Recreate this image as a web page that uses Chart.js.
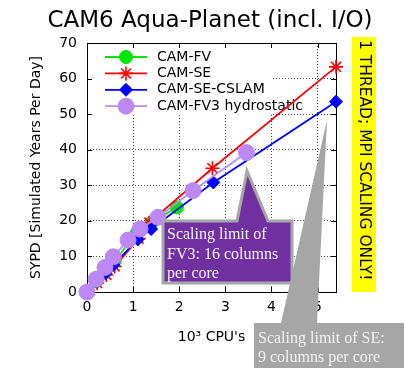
<!DOCTYPE html>
<html>
<head>
<meta charset="utf-8">
<script src="https://cdn.jsdelivr.net/npm/chart.js@4.4.0/dist/chart.umd.min.js"></script>
<style>
  html, body { margin: 0; padding: 0; background: #fff; }
  canvas { display: block; }
</style>
</head>
<body>
<canvas id="canvas" width="404" height="370"></canvas>
<script>
/* values: x = 10^3 CPU's, y = SYPD */
const fvX    = [0, 0.2, 0.4, 0.6, 1.08, 1.4, 1.95];
const fvY    = [0, 3.0, 6.0, 8.8, 16.6, 19.5, 23.8];
const seX    = [0, 0.22, 0.42, 0.6, 1.12, 1.35, 2.72, 5.4];
const seY    = [0, 2.5, 4.8, 7.2, 15.0, 19.5, 34.8, 63.3];
const cslamX = [0, 0.21, 0.4, 0.57, 1.1, 1.39, 2.74, 5.4];
const cslamY = [0, 2.9, 5.2, 7.6, 14.8, 17.7, 30.8, 53.5];
const fv3X   = [0, 0.2, 0.39, 0.57, 0.89, 1.15, 1.54, 2.3, 3.46];
const fv3Y   = [0, 3.6, 6.9, 9.9, 14.6, 17.7, 21.0, 28.5, 39.2];

const seriesNames = ['CAM-FV', 'CAM-SE', 'CAM-SE-CSLAM', 'CAM-FV3 hydrostatic'];
const xTicks = [0, 1, 2, 3, 4, 5];
const yTicks = [0, 10, 20, 30, 40, 50, 60, 70];

const titleText = 'CAM6 Aqua-Planet (incl. I/O)';
const noteText = '1 THREAD; MPI SCALING ONLY!';
const fv3Note = ['Scaling limit of', 'FV3: 16 columns', 'per core'];
const seNote = ['Scaling limit of SE:', '9 columns per core'];

function pts(xs, ys) {
    return xs.map(function (x, i) { return { x: x, y: ys[i] }; });
}

const sans = 'DejaVu Sans';

function series(label, data, color, style, radius, order) {
    return {
        label: label,
        data: data,
        showLine: true,
        borderColor: color,
        backgroundColor: color,
        borderWidth: 1.8,
        pointStyle: style,
        pointRadius: radius,
        pointHoverRadius: radius,
        pointBorderWidth: style === 'star' ? 1.6 : 1,
        order: order,
        clip: false
    };
}

/* gnuplot look: key box, frame, inward tics, notes */
const extras = {
    id: 'extras',
    beforeDatasetsDraw(chart) {
        const ctx = chart.ctx;
        const a = chart.chartArea;
        const xs = chart.scales.x, ys = chart.scales.y;
        ctx.save();
        // key
        ctx.fillStyle = '#fff';
        ctx.fillRect(a.left + 1, a.top + 1, 184, 71);
        chart.data.datasets.forEach(function (ds, i) {
            const cy = a.top + 14 + i * 16.4;
            ctx.strokeStyle = ds.borderColor;
            ctx.lineWidth = ds.borderWidth;
            ctx.beginPath();
            ctx.moveTo(a.left + 18, cy);
            ctx.lineTo(a.left + 60, cy);
            ctx.stroke();
            ctx.fillStyle = ds.backgroundColor;
            ctx.lineWidth = ds.pointBorderWidth;
            Chart.helpers.drawPoint(ctx, {
                pointStyle: ds.pointStyle, radius: ds.pointRadius,
                borderWidth: ds.pointBorderWidth, rotation: 0
            }, a.left + 39, cy);
            ctx.fillStyle = '#000';
            ctx.font = '14px "' + sans + '"';
            ctx.textBaseline = 'middle';
            ctx.textAlign = 'left';
            ctx.fillText(ds.label, a.left + 70, cy);
        });
        // frame
        ctx.strokeStyle = '#000';
        ctx.lineWidth = 1;
        ctx.strokeRect(Math.round(a.left) + 0.5, Math.round(a.top) + 0.5,
            Math.round(a.right - a.left), Math.round(a.bottom - a.top));
        // inward tics
        ctx.beginPath();
        xTicks.slice(1).forEach(function (v) {
            const px = Math.round(xs.getPixelForValue(v)) + 0.5;
            ctx.moveTo(px, a.bottom); ctx.lineTo(px, a.bottom - 5);
            ctx.moveTo(px, a.top); ctx.lineTo(px, a.top + 5);
        });
        yTicks.slice(1, -1).forEach(function (v) {
            const py = Math.round(ys.getPixelForValue(v)) + 0.5;
            ctx.moveTo(a.left, py); ctx.lineTo(a.left + 5, py);
            ctx.moveTo(a.right, py); ctx.lineTo(a.right - 5, py);
        });
        ctx.stroke();
        ctx.restore();
    },
    afterDraw(chart) {
        const ctx = chart.ctx;
        ctx.save();
        // title
        ctx.fillStyle = '#000';
        ctx.font = '23px "' + sans + '"';
        ctx.textAlign = 'center';
        ctx.textBaseline = 'alphabetic';
        ctx.fillText(titleText, 210, 27);

        // yellow note
        ctx.fillStyle = '#ffff00';
        ctx.fillRect(352, 37, 24, 255);
        ctx.translate(364, 40);
        ctx.rotate(Math.PI / 2);
        ctx.fillStyle = '#000';
        ctx.font = '15.5px "' + sans + '"';
        ctx.textAlign = 'left';
        ctx.textBaseline = 'middle';
        ctx.fillText(noteText, 0, 0);
        ctx.setTransform(1, 0, 0, 1, 0, 0);

        // FV3 callout
        ctx.beginPath();
        ctx.moveTo(163, 221); ctx.lineTo(237, 221); ctx.lineTo(247, 171);
        ctx.lineTo(268, 221); ctx.lineTo(292, 221); ctx.lineTo(292, 283);
        ctx.lineTo(163, 283); ctx.closePath();
        ctx.fillStyle = '#7030a0';
        ctx.fill();
        ctx.lineWidth = 3;
        ctx.strokeStyle = '#a6a6a6';
        ctx.stroke();
        ctx.fillStyle = '#f4f0f8';
        ctx.font = '16px "Liberation Serif"';
        ctx.textAlign = 'left';
        ctx.textBaseline = 'alphabetic';
        fv3Note.forEach(function (t, i) { ctx.fillText(t, 167, 239 + i * 19.5); });

        // SE callout
        ctx.beginPath();
        ctx.moveTo(254, 323); ctx.lineTo(281, 323); ctx.lineTo(327, 120);
        ctx.lineTo(317, 323); ctx.lineTo(404, 323); ctx.lineTo(404, 368);
        ctx.lineTo(254, 368); ctx.closePath();
        ctx.fillStyle = '#a6a6a6';
        ctx.fill();
        ctx.fillStyle = '#f2f2f2';
        seNote.forEach(function (t, i) { ctx.fillText(t, 258, 343 + i * 19); });
        ctx.restore();
    }
};

const ctx = document.getElementById('canvas');
new Chart(ctx, {
    type: 'scatter',
    data: {
        datasets: [
            series(seriesNames[0], pts(fvX, fvY), '#00e600', 'circle', 6.5, 4),
            series(seriesNames[1], pts(seX, seY), '#ff0000', 'star', 7, 3),
            series(seriesNames[2], pts(cslamX, cslamY), '#0000ff', 'rectRot', 6.5, 2),
            series(seriesNames[3], pts(fv3X, fv3Y), '#bb88f5', 'circle', 8, 1)
        ]
    },
    plugins: [extras],
    options: {
        responsive: false,
        animation: false,
        devicePixelRatio: 1,
        layout: { padding: { top: 43, right: 68, left: 0, bottom: 0 } },
        plugins: {
            legend: { display: false },
            title: { display: false },
            tooltip: { enabled: false }
        },
        scales: {
            x: {
                type: 'linear',
                min: 0,
                max: 5.4,
                afterBuildTicks: function (s) { s.ticks = xTicks.map(function (v) { return { value: v }; }); },
                afterFit: function (s) { s.height = 78; },
                ticks: { color: '#000', font: { family: sans, size: 14 }, padding: 7, maxRotation: 0 },
                grid: { color: '#444', drawTicks: false },
                border: { display: false, dash: [1, 2] },
                title: {
                    display: true, text: "10\u00b3 CPU's", color: '#000',
                    font: { family: sans, size: 14 }, padding: { top: 0, bottom: 24 }
                }
            },
            y: {
                type: 'linear',
                min: 0,
                max: 70,
                afterBuildTicks: function (s) { s.ticks = yTicks.map(function (v) { return { value: v }; }); },
                afterFit: function (s) { s.width = 87; },
                ticks: { color: '#000', font: { family: sans, size: 14 }, padding: 10 },
                grid: { color: '#444', drawTicks: false },
                border: { display: false, dash: [1, 2] },
                title: {
                    display: true, text: 'SYPD [Simulated Years Per Day]', color: '#000',
                    font: { family: sans, size: 14 }, padding: { top: 28, bottom: 0 }
                }
            }
        }
    }
});
</script>
</body>
</html>
